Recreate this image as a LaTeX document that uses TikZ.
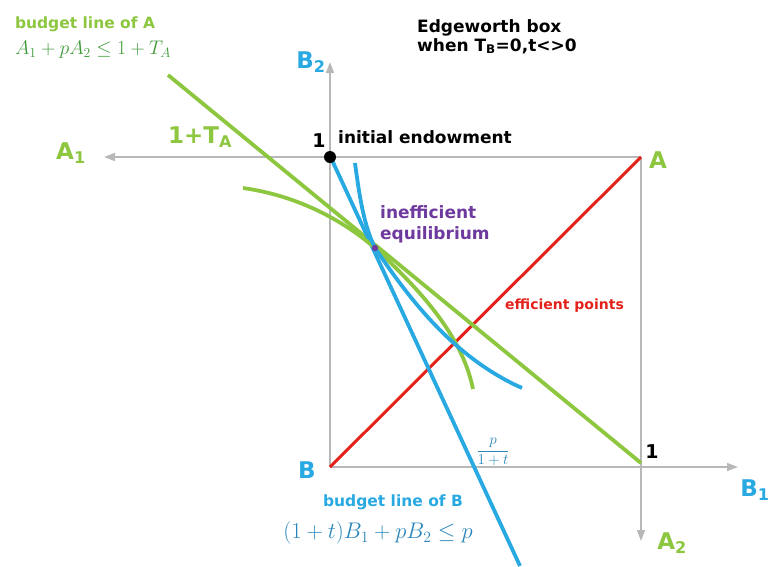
\documentclass[tikz,border=0pt]{standalone}
\usepackage{graphicx}
\usepackage{fontspec}
\setmainfont{DejaVu Sans}
\usetikzlibrary{arrows.meta}
\definecolor{lgreen}{HTML}{8DC63F}
\definecolor{dgreen}{HTML}{3F9A3A}
\definecolor{lblue}{HTML}{29A9E1}
\definecolor{dblue}{HTML}{2A86B8}
\definecolor{ered}{HTML}{E3231B}
\definecolor{epurple}{HTML}{6E3A9E}
\definecolor{axgray}{HTML}{B8B8B8}
\tikzset{
  axis/.style={draw=axgray,line width=1.6pt,-{Triangle[length=11pt,width=8pt]}},
  gline/.style={draw=lgreen,line width=3.8pt},
  bline/.style={draw=lblue,line width=3.8pt},
  rline/.style={draw=ered,line width=3pt},
  lab/.style={font=\bfseries\fontsize{17}{21}\selectfont,inner sep=0pt},
  smlab/.style={font=\bfseries\fontsize{14}{17}\selectfont,inner sep=0pt},
  budlab/.style={font=\bfseries\fontsize{15.5}{18}\selectfont,inner sep=0pt},
  biglab/.style={font=\bfseries\fontsize{23}{26}\selectfont,inner sep=0pt},
  onelab/.style={font=\bfseries\fontsize{19}{22}\selectfont,inner sep=0pt},
  formula/.style={inner sep=0pt,font=\fontsize{20.74}{25}\selectfont},
}
\begin{document}
\begin{tikzpicture}[x=1pt,y=-1pt]
\useasboundingbox (0,0) rectangle (769,566);
% box corners and axis ends
\coordinate (TL) at (330,157);
\coordinate (BL) at (330,467);
\coordinate (TR) at (641,157);
\coordinate (BR) at (641,467);
\coordinate (A1end) at (104,157);
\coordinate (B2end) at (330,62);
\coordinate (B1end) at (738,467);
\coordinate (A2end) at (641,541);
% axes
\draw[axis] (TR) -- (A1end);
\draw[axis] (BL) -- (B2end);
\draw[axis] (BL) -- (B1end);
\draw[axis] (TR) -- (A2end);
% efficient points
\draw[rline] (BL) -- (TR);
% budget lines
\coordinate (gA) at (168,75);
\coordinate (gB) at (641,463);
\draw[gline] (gA) -- (gB);
\coordinate (bA) at (331,158);
\coordinate (bB) at (520,566);
\draw[bline] (bA) -- (bB);
% indifference curves
\coordinate (eq) at (375,248);
\coordinate (gc1) at (243,188);
\coordinate (gc2) at (473,389);
\draw[gline] (gc1) .. controls (300,196) and (345,222) .. (eq)
  .. controls (420,290) and (462,335) .. (gc2);
\coordinate (bc1) at (355,163);
\coordinate (bc2) at (522,388);
\draw[bline] (bc1) .. controls (360,200) and (364,225) .. (eq)
  .. controls (405,292) and (450,356) .. (bc2);
% points
\fill[black] (TL) circle (6pt);
\fill[epurple] (eq) circle (3.2pt);
% labels
\node[budlab,text=lgreen] (tbA) at (85,24) {budget line of A};
\node[formula,text=dgreen] (fA) at (93,50) {\scalebox{0.95}{$A_1+pA_2\le 1+T_A$}};
\node[lab,align=left,anchor=north west,font=\bfseries\fontsize{17}{19}\selectfont] (title) at (417,19) {Edgeworth box\\when T\textsubscript{B}=0,t<>0};
\node[biglab,text=lblue] (lB2) at (311,62) {B\textsubscript{2}};
\node[biglab,text=lgreen] (lTA) at (200,137) {1+T\textsubscript{A}};
\node[biglab,text=lgreen] (lA1) at (71,153) {A\textsubscript{1}};
\node[onelab] (one1) at (319,141) {1};
\node[lab,anchor=west] (ie) at (338,137) {initial endowment};
\node[biglab,text=lgreen] (lA) at (658,160) {A};
\node[lab,text=epurple,align=left,anchor=north west] (ineq) at (380,205) {inefficient\\equilibrium};
\node[smlab,text=ered,anchor=west] (ep) at (505,306) {efficient points};
\node[text=dblue,inner sep=0pt,font=\fontsize{14.4}{18}\selectfont] (frac) at (493,452) {\scalebox{1.05}{$\displaystyle\frac{p}{1+t}$}};
\node[biglab,text=lblue] (lB) at (307,470) {B};
\node[onelab] (one2) at (652,452) {1};
\node[biglab,text=lblue] (lB1) at (755,490) {B\textsubscript{1}};
\node[biglab,text=lgreen] (lA2) at (672,543) {A\textsubscript{2}};
\node[budlab,text=lblue] (tbB) at (393,502) {budget line of B};
\node[formula,text=dblue] (fB) at (378,533) {\scalebox{1.09}{$\bigl(1+t\bigr)B_1+pB_2\le p$}};
\end{tikzpicture}
\end{document}
